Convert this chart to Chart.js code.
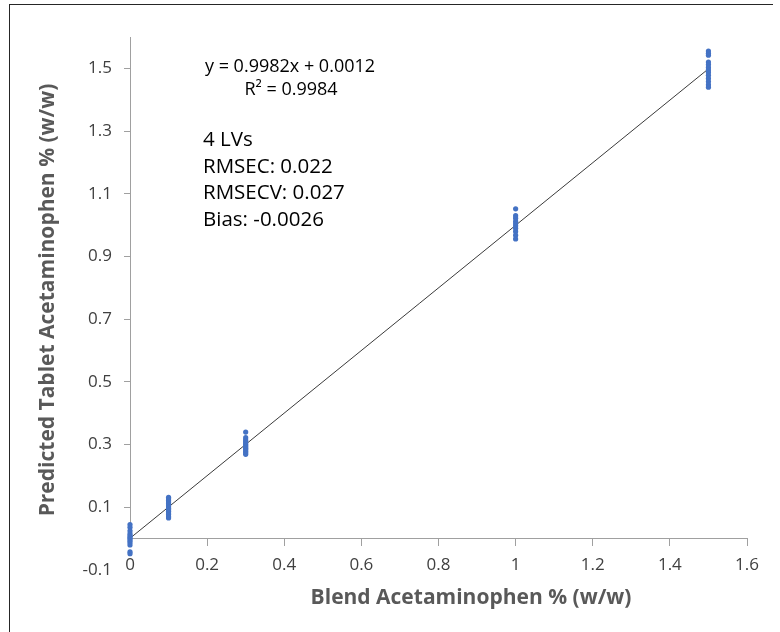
<!DOCTYPE html>
<html>
<head>
<meta charset="utf-8">
<script src="https://cdn.jsdelivr.net/npm/chart.js@4.4.0/dist/chart.umd.min.js"></script>
<style>
    html, body { margin: 0; padding: 0; background: #fff; }
    #frame { position: relative; width: 780px; height: 632px; overflow: hidden; }
    #frame canvas { position: absolute; left: 0; top: 0; }
    .edge { position: absolute; background: #262626; }
</style>
</head>
<body>
<div id="frame">
    <canvas id="chart" width="780" height="632"></canvas>
    <div class="edge" style="left:9px; top:4px; width:1px; height:628px"></div>
    <div class="edge" style="left:9px; top:4px; width:764px; height:1px"></div>
</div>
<script>
// Blend concentrations and the predicted tablet values at each level
const blendLevels = [0, 0.1, 0.3, 1, 1.5];
const predictedAt0 = [0.045, 0.036, 0.025, 0.016, 0.01, 0.004, 0.0, -0.006, -0.012, -0.02, -0.042, -0.048];
const predictedAt01 = [0.132, 0.127, 0.122, 0.117, 0.112, 0.107, 0.102, 0.097, 0.092, 0.087, 0.082, 0.077, 0.07, 0.066];
const predictedAt03 = [0.34, 0.322, 0.315, 0.31, 0.305, 0.3, 0.296, 0.292, 0.288, 0.284, 0.279, 0.274, 0.269];
const predictedAt1 = [1.052, 1.03, 1.022, 1.012, 1.005, 0.998, 0.99, 0.98, 0.968, 0.956];
const predictedAt15 = [1.555, 1.548, 1.542, 1.52, 1.512, 1.503, 1.495, 1.487, 1.478, 1.468, 1.458, 1.448, 1.44];

// Trendline end points (y = 0.9982x + 0.0012)
const trendX = [0, 1.5];
const trendY = [0.0012, 1.4985];

const xTicks = [0, 0.2, 0.4, 0.6, 0.8, 1, 1.2, 1.4, 1.6];
const yTicks = [-0.1, 0.1, 0.3, 0.5, 0.7, 0.9, 1.1, 1.3, 1.5];

const equationLines = ["y = 0.9982x + 0.0012", "R\u00b2 = 0.9984"];
const statLines = ["4 LVs", "RMSEC: 0.022", "RMSECV: 0.027", "Bias: -0.0026"];
const xTitle = "Blend Acetaminophen % (w/w)";
const yTitle = "Predicted Tablet Acetaminophen % (w/w)";

const fontFamily = "'Open Sans', 'Noto Sans', sans-serif";
const axisColor = "#a0a0a0";
const labelColor = "#404040";
const titleColor = "#595959";

const predicted = [predictedAt0, predictedAt01, predictedAt03, predictedAt1, predictedAt15];
const points = [];
blendLevels.forEach((level, i) => {
    predicted[i].forEach(value => points.push({ x: level, y: value }));
});

const formatTick = value => String(Math.round(value * 10) / 10);

const textPlugin = {
    id: "chartText",
    beforeDatasetsDraw: chart => {
        // Vertical axis line is only drawn from zero upwards
        const { ctx, scales: { x, y } } = chart;
        const x0 = Math.round(x.getPixelForValue(0)) + 0.5;
        ctx.save();
        ctx.strokeStyle = axisColor;
        ctx.lineWidth = 1;
        ctx.beginPath();
        ctx.moveTo(x0, y.getPixelForValue(0));
        ctx.lineTo(x0, y.getPixelForValue(y.max));
        ctx.stroke();
        ctx.restore();
    },
    afterDraw: chart => {
        const { ctx, chartArea } = chart;
        ctx.save();

        ctx.fillStyle = "#000";
        ctx.font = "18px " + fontFamily;
        ctx.textBaseline = "middle";
        ctx.textAlign = "center";
        ctx.fillText(equationLines[0], chartArea.left + 160, 67);
        ctx.fillText(equationLines[1], chartArea.left + 161, 90);

        ctx.font = "20.5px " + fontFamily;
        ctx.textAlign = "left";
        statLines.forEach((line, i) => {
            ctx.fillText(line, chartArea.left + 73, 140 + i * 26.7);
        });

        ctx.fillStyle = titleColor;
        ctx.font = "bold 21px " + fontFamily;
        ctx.textAlign = "center";
        ctx.fillText(xTitle, 471, 598);

        ctx.translate(48, 300);
        ctx.rotate(-Math.PI / 2);
        ctx.fillText(yTitle, 0, 0);

        ctx.restore();
    }
};

new Chart(document.getElementById("chart"), {
    type: "scatter",
    data: {
        datasets: [
            {
                type: "line",
                data: trendX.map((x, i) => ({ x: x, y: trendY[i] })),
                borderColor: "#3a3a3a",
                borderWidth: 1,
                pointRadius: 0,
                order: 2
            },
            {
                data: points,
                backgroundColor: "#4472C4",
                borderWidth: 0,
                pointRadius: 2.6,
                clip: false,
                order: 1
            }
        ]
    },
    options: {
        responsive: false,
        animation: false,
        devicePixelRatio: 1,
        layout: { padding: { top: 37, right: 33, bottom: 62, left: 0 } },
        plugins: {
            legend: { display: false },
            tooltip: { enabled: false }
        },
        scales: {
            x: {
                type: "linear",
                min: 0,
                max: 1.6,
                position: { y: 0 },
                afterBuildTicks: scale => { scale.ticks = xTicks.map(v => ({ value: v })); },
                grid: { drawOnChartArea: false, drawTicks: true, tickLength: 7, color: axisColor },
                border: { display: true, color: axisColor },
                ticks: {
                    padding: 9,
                    color: labelColor,
                    font: { family: fontFamily, size: 17 },
                    maxRotation: 0,
                    callback: value => formatTick(value)
                }
            },
            y: {
                type: "linear",
                min: -0.1,
                max: 1.6,
                afterFit: scale => { scale.width = 130; },
                afterBuildTicks: scale => { scale.ticks = yTicks.map(v => ({ value: v })); },
                grid: {
                    drawOnChartArea: false,
                    drawTicks: true,
                    tickLength: 6,
                    color: ctx => (ctx.tick && ctx.tick.value < 0 ? "rgba(0,0,0,0)" : axisColor)
                },
                border: { display: false },
                ticks: {
                    padding: 12,
                    color: labelColor,
                    font: { family: fontFamily, size: 17 },
                    callback: value => formatTick(value)
                }
            }
        }
    },
    plugins: [textPlugin]
});
</script>
</body>
</html>
